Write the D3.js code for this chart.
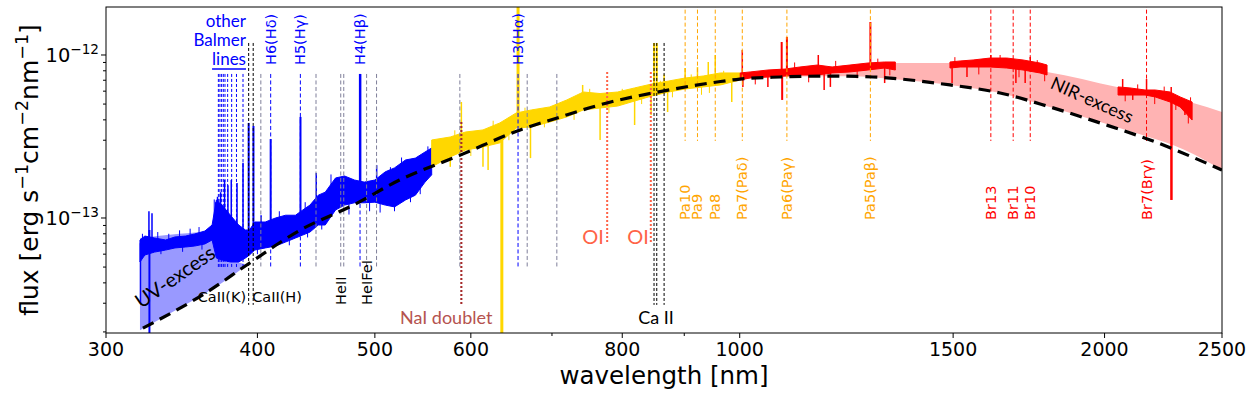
<!DOCTYPE html>
<html>
<head>
<meta charset="utf-8">
<script src="https://cdn.jsdelivr.net/npm/d3@7"></script>
<style>
body { margin: 0; background: #fff; }
text { font-family: "DejaVu Sans", sans-serif; }
</style>
</head>
<body>
<svg id="chart" width="1255" height="394"></svg>
<script>
// flux values in units of 1e-13 erg s-1 cm-2 nm-1, wavelength in nm
// spectrum segments: [wavelength, low edge, high edge] of the noisy band
var blueBand = [[320,0.537,0.733],[323,0.593,0.775],[329,0.618,0.754],[336,0.636,0.733],[342,0.655,0.765],
  [349,0.664,0.775],[355,0.673,0.798],[362,0.693,0.832],[367,0.733,0.906],[370,0.568,1.29],[374,0.553,1.20],
  [380,0.537,1.04],[386,0.537,0.906],[391,0.568,0.844],[394,0.593,0.844],[398,0.636,0.945],[406,0.655,0.945],
  [414,0.673,1.00],[422,0.712,1.04],[430,0.754,1.04],[436,0.786,1.12],[442,0.820,1.20],[449,0.906,1.38],
  [455,0.906,1.44],[464,1.12,1.76],[472,1.20,1.81],[481,1.24,1.71],[490,1.24,1.66],[500,1.25,1.71],
  [510,1.20,1.92],[519,1.17,2.03],[530,1.29,2.27],[540,1.38,2.33],[550,1.66,2.54],[557,1.84,2.69]];
var yellowBand = [[557,2.06,3.01],[577,2.37,3.14],[594,2.61,3.37],[614,2.73,3.47],[634,2.89,3.83],[654,3.56,4.41],
  [673,3.62,4.60],[697,3.88,4.80],[720,4.17,5.30],[743,4.60,5.93],[767,4.73,5.80],[793,4.86,5.93],[819,5.22,6.28],
  [846,5.60,6.64],[874,5.93,6.93],[902,6.19,7.23],[933,6.37,7.43],[964,6.55,7.76],[1001,7.03,7.76]];
var redBand1 = [[1001,7.03,7.76],[1020,7.23,7.87],[1055,7.33,8.09],[1090,7.43,8.20],[1121,7.54,8.44],[1159,7.54,8.68],
  [1192,7.76,8.44],[1233,7.87,8.68],[1276,8.09,8.93],[1317,8.32,9.06],[1344,8.09,9.06]];
var redBand2 = [[1491,8.32,9.06],[1520,8.44,9.19],[1558,8.44,9.32],[1609,8.44,9.58],[1661,8.32,9.58],[1713,8.09,9.32],
  [1769,7.76,8.93],[1793,7.54,8.68]];
var redBand3 = [[2052,5.68,6.37],[2099,5.68,6.28],[2160,5.68,6.10],[2202,5.53,6.10],[2265,5.15,5.93],[2309,4.80,5.53],
  [2362,3.99,5.15]];

// single features and noise spikes: [wavelength, from, to, width]
var blueSpikes = [[320.3,0.70,0.30,1.5],[325.5,0.683,1.10,1.5],[327.4,0.683,1.07,1.5],[325.8,0.844,0.15,2],
  [321.5,0.65,0.80,1],[331,0.70,0.82,1],[333,0.68,0.60,1],[338,0.70,0.80,1],[345,0.70,0.84,1],[347,0.70,0.62,1],
  [352,0.72,0.86,1],[358,0.74,0.88,1],[360,0.75,0.64,1],[368.5,0.7,1.30,1],[369.4,0.7,1.25,1],
  [370.8,0.6,1.35,1.5],[373,0.6,1.44,1.5],[375.8,0.6,1.71,1.5],[378.2,0.6,1.59,1.5],[380.6,0.6,1.71,1.5],
  [384.8,0.6,1.64,1.5],[389.2,0.6,2.18,1.5],[393.4,0.6,3.83,2],[397,0.65,3.67,2],[400,0.75,0.60,1],
  [402.8,0.7,1.04,1.5],[410.2,0.75,3.05,2],[417,0.8,1.10,1],[425,0.85,0.68,1],[434.1,0.9,4.17,2],
  [438,0.95,1.25,1],[440,0.95,0.76,1],[447.3,1.0,1.89,1.5],[452,1.1,0.85,1],[460,1.3,1.85,1],
  [468.4,1.3,1.76,1.5],[476,1.4,1.05,1],[486.2,1.3,7.65,2.5],[495,1.4,1.10,1],[501.7,1.3,2.11,1.5],
  [505,1.4,1.08,1],[515,1.5,2.05,1],[519,1.5,1.10,1],[526,1.6,2.35,1],[535,1.7,1.25,1],[545,1.8,1.40,1],[553,2.0,2.75,1]];
var yellowSpikes = [[589.3,2.6,5.15,1.5],[577,2.6,2.06,1.5],[636.4,3.4,0.15,3],[656.3,3.8,25,3],[614,2.9,2.06,1.5],
  [620,2.9,1.97,1.5],[672,3.9,2.33,1.5],[742,5.0,6.55,1.5],[767,5.0,3.01,1.5],[819,5.5,3.72,1.5],[845,5.9,4.28,1.5],
  [872,6.1,4.47,1.5],[849.8,5.8,11.85,2],[854.2,5.8,11.85,2],[866.2,6.0,7.6,1.5],[901.5,6.5,8.32,1.5],
  [922.9,6.6,8.44,1.5],[942,6.8,9.06,1.5],[954.6,6.8,10.0,1.5],[985,7.2,5.15,1.5],
  [565,2.5,2.20,1],[582,2.7,3.45,1],[600,2.9,2.40,1],[626,3.2,3.95,1],[645,3.3,3.00,1],[665,3.9,4.75,1],
  [690,4.1,3.60,1],[705,4.4,5.00,1],[730,4.6,4.00,1],[752,5.2,6.20,1],[780,5.2,4.40,1],[800,5.4,6.20,1],
  [830,5.7,5.00,1],[860,6.1,6.95,1],[880,6.3,5.50,1],[912,6.6,7.60,1],[930,6.7,5.70,1],[944,6.8,5.85,1],[970,7.0,8.00,1]];
var redSpikes = [[1004.9,7.3,10.73,1.5],[1006,7.3,6.37,1.5],[1083,7.7,12.02,2],[1084,7.7,5.30,2],[1093.8,7.8,12.9,2],
  [1055,7.6,6.37,1.5],[1161,8.0,10.0,1.5],[1174,8.0,6.10,1.5],[1188,8.0,6.37,1.5],[1281.8,8.5,15.94,2],
  [1317,8.6,6.73,1.5],[1497,8.6,6.73,1.5],[1540,8.8,7.33,1.5],[1611.4,9.0,10.0,1.5],[1690,8.9,6.73,1.5],
  [1720,8.7,6.73,1.5],[1736.7,8.5,9.72,1.5],[2070,6.0,7.12,1.5],[2110,5.9,5.30,1.5],[2166.1,5.9,7.12,1.5],
  [2270,5.5,6.37,1.5],[2271,5.5,1.29,2.5],[2330,5.0,4.28,1.5],
  [1030,7.5,6.60,1],[1110,7.9,9.00,1],[1140,7.9,6.80,1],[1200,8.0,9.20,1],[1250,8.2,7.20,1],[1300,8.6,9.50,1],
  [1330,8.6,7.50,1],[1505,8.6,9.70,1],[1575,8.8,7.60,1],[1640,9.0,10.0,1],[1700,8.8,7.30,1],[1760,8.3,9.30,1],
  [1785,8.0,6.90,1],[2080,6.0,5.20,1],[2130,5.9,6.60,1],[2200,5.8,5.00,1],[2240,5.6,6.40,1],[2290,5.2,4.60,1],
  [2345,4.6,3.80,1],[2355,4.6,5.50,1]];

// stellar photosphere model (dashed)
var photosphere = [[321.8,0.211],[365.6,0.361],[392,0.515],[434,0.844],[480,1.20],[524,1.71],[588,2.43],[659,3.47],
  [707,4.11],[777,5.08],[848,5.85],[958,6.83],[1000,7.12],[1080,7.33],[1194,7.43],[1288,7.33],[1491,6.55],
  [1640,5.85],[1803,4.80],[1983,3.83],[2181,3.01],[2500,1.97]];
// excess bands: [wavelength, low, high]
var uvExcess = [[320,0.205,0.754],[345,0.28,0.80],[366,0.362,0.82],[372,0.39,0.66],[392,0.515,0.515]];
var nirExcess = [[1000,7.12,7.22],[1122,7.38,8.09],[1233,7.40,8.68],[1343,7.10,8.93],[1491,6.55,8.93],
  [1640,5.85,8.56],[1793,4.85,7.87],[2048,3.60,6.36],[2367,2.47,5.08],[2500,1.97,4.47]];

// line identifications
var balmerOther = [371.4,372.5,373.7,374.9,376.1,378.0,380.9,384.4,389.2];
var balmerMain = [410.2,434.0,486.1,656.3];
var balmerNames = ["H6(Hδ)","H5(Hγ)","H4(Hβ)","H3(Hα)"];
var grayLines = [402.6,447.1,468.6,471.3,492.2,501.6,587.6,667.8,706.5];
var caLines = [393.4,396.8,849.8,854.2,866.2];
var naLines = [589.0,589.6];
var oLines = [777.4,844.6];
var paLines = [901.5,922.9,954.6,1004.9,1093.8,1281.8];
var paNames = ["Pa10","Pa9","Pa8","Pa7(Paδ)","Pa6(Paγ)","Pa5(Paβ)"];
var brLines = [1611.4,1681.3,1736.7,2166.1];
var brNames = ["Br13","Br11","Br10","Br7(Brγ)"];
var heLines = [468.6,492.2];
var heNames = ["HeII","HeIFeI"];

var xTicks = [300,400,500,600,800,1000,1500,2000,2500];
var xMinor = [700,900];
var yTicks = [1,10];
var yTickExp = ["−13","−12"];
var yMinor = [0.2,0.3,0.4,0.5,0.6,0.7,0.8,0.9,2,3,4,5,6,7,8,9];

var svg = d3.select('#chart');
var L = 106, R = 1222, T = 7, B = 333;

var x = d3.scaleLog().domain([300,2500]).range([L,R]);
var y = d3.scaleLog().domain([0.197,19.7]).range([B,T]);

svg.append('defs').append('clipPath').attr('id','clip')
  .append('rect').attr('x',L).attr('y',T).attr('width',R-L).attr('height',B-T);

var plot = svg.append('g').attr('clip-path','url(#clip)');

var band = d3.area().x(function(d){return x(d[0]);}).y0(function(d){return y(d[1]);}).y1(function(d){return y(d[2]);});

// excess fills
plot.append('path').datum(uvExcess).attr('d',band.curve(d3.curveMonotoneX)).attr('fill','#9999ff');
plot.append('path').datum(nirExcess).attr('d',band.curve(d3.curveMonotoneX)).attr('fill','#ffb3b3');
band.curve(d3.curveLinear);

// spectrum
function drawSegment(data, spikes, color) {
  plot.append('path').datum(data).attr('d',band).attr('fill',color).attr('stroke',color)
    .attr('stroke-width',1).attr('stroke-linejoin','bevel');
  plot.append('g').selectAll('line').data(spikes).enter().append('line')
    .attr('x1',function(d){return x(d[0]);}).attr('x2',function(d){return x(d[0]);})
    .attr('y1',function(d){return y(d[1]);}).attr('y2',function(d){return y(d[2]);})
    .attr('stroke',color).attr('stroke-width',function(d){return d[3];});
}
drawSegment(blueBand, blueSpikes, '#0000ff');
drawSegment(yellowBand, yellowSpikes, '#ffd700');
drawSegment(redBand1, [], '#ff0000');
drawSegment(redBand2, [], '#ff0000');
drawSegment(redBand3, redSpikes, '#ff0000');

// identification lines
function markers(list, top, bottom, color, dash, w) {
  plot.append('g').selectAll('line').data(list).enter().append('line')
    .attr('x1',function(d){return x(d);}).attr('x2',function(d){return x(d);})
    .attr('y1',y(top)).attr('y2',y(bottom))
    .attr('stroke',color).attr('stroke-width',w).attr('stroke-dasharray',dash);
}
markers(grayLines, 7.65, 0.494, '#7f7f9a', '4,2.5', 1);
markers(balmerOther, 7.65, 0.494, '#0000ff', '3,2', 1);
markers(balmerMain, 7.65, 0.494, '#0000ff', '4,2.5', 1);
markers(caLines, 11.85, 0.293, '#000000', '3,2', 1);
markers(naLines, 3.88, 0.293, '#a52a2a', '2,2', 1.5);
markers(oLines, 7.87, 0.693, '#ff6347', '2,2', 2);
markers(paLines, 25, 2.97, '#ffa500', '4,2.5', 1);
markers(brLines, 25, 2.97, '#ff0000', '4,2.5', 1);

// photosphere
var line = d3.line().x(function(d){return x(d[0]);}).y(function(d){return y(d[1]);}).curve(d3.curveMonotoneX);
plot.append('path').datum(photosphere).attr('d',line).attr('fill','none')
  .attr('stroke','#000').attr('stroke-width',3.2).attr('stroke-dasharray','12,7');

// axes
var xAxis = svg.append('g').attr('transform','translate(0,'+B+')');
xAxis.selectAll('.maj').data(xTicks).enter().append('line')
  .attr('x1',function(d){return x(d);}).attr('x2',function(d){return x(d);}).attr('y1',0).attr('y2',5).attr('stroke','#000');
xAxis.selectAll('.min').data(xMinor).enter().append('line')
  .attr('x1',function(d){return x(d);}).attr('x2',function(d){return x(d);}).attr('y1',0).attr('y2',3).attr('stroke','#000');
xAxis.selectAll('text').data(xTicks).enter().append('text')
  .attr('x',function(d){return x(d);}).attr('y',23).attr('text-anchor','middle')
  .attr('font-size','19px').text(function(d){return d;});

var yAxis = svg.append('g').attr('transform','translate('+L+',0)');
yAxis.selectAll('.maj').data(yTicks).enter().append('line')
  .attr('y1',function(d){return y(d);}).attr('y2',function(d){return y(d);}).attr('x1',0).attr('x2',-5).attr('stroke','#000');
yAxis.selectAll('.min').data(yMinor).enter().append('line')
  .attr('y1',function(d){return y(d);}).attr('y2',function(d){return y(d);}).attr('x1',0).attr('x2',-3).attr('stroke','#000');
var yl = yAxis.selectAll('text').data(yTicks).enter().append('text')
  .attr('x',-7).attr('y',function(d){return y(d)+7;}).attr('text-anchor','end').attr('font-size','19.4px');
yl.append('tspan').text('10');
yl.append('tspan').attr('dy',-8).attr('font-size','13.6px').text(function(d,i){return yTickExp[i];});

svg.append('rect').attr('x',L).attr('y',T).attr('width',R-L).attr('height',B-T)
  .attr('fill','none').attr('stroke','#000').attr('stroke-width',1);

// axis titles
svg.append('text').attr('x',(L+R)/2).attr('y',384).attr('text-anchor','middle').attr('font-size','24.5px').text('wavelength [nm]');
var yt = svg.append('text').attr('transform','translate(38,'+((T+B)/2)+') rotate(-90)')
  .attr('text-anchor','middle').attr('font-size','25px');
yt.append('tspan').text('flux [erg s');
yt.append('tspan').attr('dy',-10).attr('font-size','17.5px').text('−1');
yt.append('tspan').attr('dy',10).text('cm');
yt.append('tspan').attr('dy',-10).attr('font-size','17.5px').text('−2');
yt.append('tspan').attr('dy',10).text('nm');
yt.append('tspan').attr('dy',-10).attr('font-size','17.5px').text('−1');
yt.append('tspan').attr('dy',10).text(']');

// rotated line labels
function vlabels(list, names, bottom, color) {
  svg.append('g').selectAll('text').data(list).enter().append('text')
    .attr('transform',function(d){return 'translate('+(x(d)+5)+','+y(bottom)+') rotate(-90)';})
    .attr('font-size','14.5px').attr('fill',color).text(function(d,i){return names[i];});
}
vlabels(balmerMain, balmerNames, 8.68, '#0000ff');
vlabels(paLines, paNames, 0.972, '#ffa500');
vlabels(brLines, brNames, 0.972, '#ff0000');
vlabels(heLines, heNames, 0.293, '#000000');

svg.append('text').attr('x',x(391.5)).attr('y',y(0.305)).attr('text-anchor','end').attr('font-size','14.5px').text('CaII(K)');
svg.append('text').attr('x',x(396)).attr('y',y(0.305)).attr('text-anchor','start').attr('font-size','14.5px').text('CaII(H)');

var geo = '"Lato", "Open Sans", sans-serif';
var ob = svg.append('g').attr('fill','#0000ff').attr('font-size','17px').style('font-family',geo).attr('text-anchor','end');
ob.append('text').attr('x',x(391.4)).attr('y',y(14.85)).style('font-family',geo).text('other');
ob.append('text').attr('x',x(391.4)).attr('y',y(11.36)).style('font-family',geo).text('Balmer');
var lines = ob.append('text').attr('x',x(391.4)).attr('y',y(8.68)).style('font-family',geo).text('lines');
var bb = lines.node().getBBox();
ob.append('line').attr('x1',bb.x).attr('x2',bb.x+bb.width).attr('y1',y(8.68)+4).attr('y2',y(8.68)+4)
  .attr('stroke','#0000ff').attr('stroke-width',1.5);

svg.append('g').selectAll('text').data([756.8,824.4]).enter().append('text')
  .attr('x',function(d){return x(d);}).attr('y',y(0.693)).attr('text-anchor','middle')
  .attr('font-size','20px').attr('fill','#ff6347').style('font-family',geo).text('OI');
svg.append('text').attr('x',x(572.5)).attr('y',y(0.224)).attr('text-anchor','middle').attr('font-size','18px')
  .attr('fill','#b5534f').style('font-family',geo).text('NaI doublet');
svg.append('text').attr('x',x(853)).attr('y',y(0.224)).attr('text-anchor','middle').attr('font-size','18px')
  .style('font-family',geo).text('Ca II');
svg.append('text').attr('transform','translate('+x(342)+','+y(0.435)+') rotate(-35)').attr('text-anchor','middle')
  .attr('dy','0.35em').attr('font-size','20px').style('font-family',geo).text('UV-excess');
svg.append('text').attr('transform','translate('+x(1953)+','+y(5.30)+') rotate(24)').attr('text-anchor','middle')
  .attr('dy','0.35em').attr('font-size','18px').style('font-family',geo).text('NIR-excess');
</script>
</body>
</html>
